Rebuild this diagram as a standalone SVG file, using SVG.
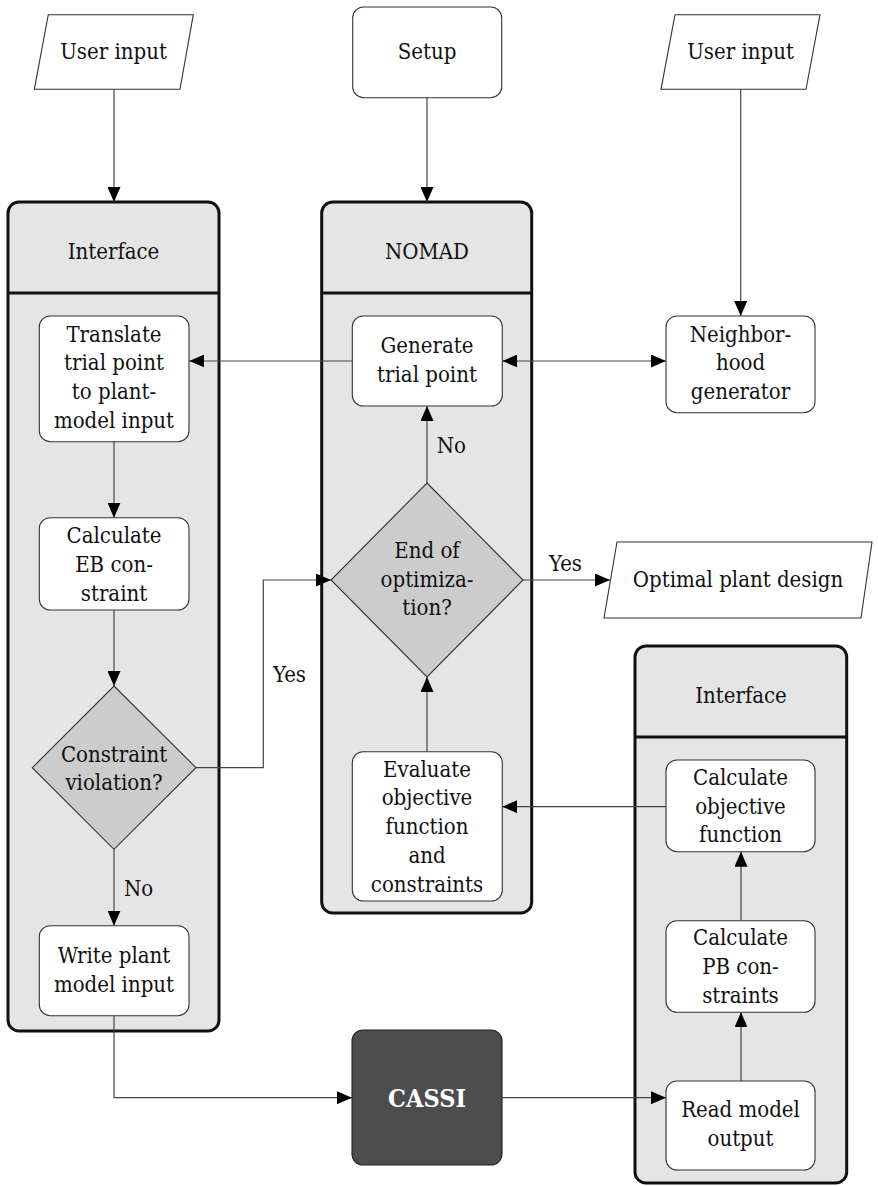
<svg xmlns="http://www.w3.org/2000/svg" width="878" height="1186" viewBox="0 0 878 1186">
  <defs>
    <marker id="arrow" markerUnits="userSpaceOnUse" markerWidth="15" markerHeight="13" refX="15" refY="6.5" orient="auto-start-reverse">
      <path d="M0,0 L15,6.5 L0,13 z" fill="#000"/>
    </marker>
    <style>
      .t { font-family: "DejaVu Serif Condensed", "DejaVu Serif", "Liberation Serif", serif; font-stretch: condensed; font-size: 22px; fill: #111; text-anchor: middle; }
      .lbl { text-anchor: start; }
      .container { fill: #e5e5e5; stroke: #111; stroke-width: 3; }
      .divider { stroke: #111; stroke-width: 3; fill: none; }
      .box { fill: #fff; stroke: #333; stroke-width: 1.1; }
      .io { fill: #fff; stroke: #333; stroke-width: 1.1; }
      .decision { fill: #cccccc; stroke: #333; stroke-width: 1.1; }
      .ext { fill: #4d4d4d; stroke: #222; stroke-width: 1.1; }
      .ext-text { fill: #fff; font-weight: bold; font-size: 25px; }
      .conn { fill: none; stroke: #444; stroke-width: 1.2; }
      .arr { marker-end: url(#arrow); }
      .dbl { marker-start: url(#arrow); marker-end: url(#arrow); }
    </style>
  </defs>

  <!-- Swimlane containers -->
  <g id="lane-interface-left">
    <rect class="container" x="8" y="202" width="211" height="829" rx="11"/>
    <line class="divider" x1="8" y1="293" x2="219" y2="293"/>
    <text class="t" x="113.5" y="259.3">Interface</text>
  </g>
  <g id="lane-nomad">
    <rect class="container" x="321.7" y="202" width="210" height="711" rx="11"/>
    <line class="divider" x1="321.7" y1="293" x2="531.7" y2="293"/>
    <text class="t" x="427" y="259.3">NOMAD</text>
  </g>
  <g id="lane-interface-right">
    <rect class="container" x="635" y="646" width="211.7" height="537" rx="11"/>
    <line class="divider" x1="635" y1="737" x2="846.7" y2="737"/>
    <text class="t" x="741" y="702.7">Interface</text>
  </g>

  <!-- Connectors -->
  <g id="connectors">
    <line class="conn arr" x1="114" y1="89.3" x2="114" y2="202"/>
    <line class="conn arr" x1="427" y1="97.7" x2="427" y2="202"/>
    <line class="conn arr" x1="740.7" y1="89.3" x2="740.7" y2="316"/>
    <line class="conn arr" x1="352.3" y1="361" x2="189.3" y2="361"/>
    <line class="conn dbl" x1="502.3" y1="361" x2="666" y2="361"/>
    <line class="conn arr" x1="114" y1="441.7" x2="114" y2="517.7"/>
    <line class="conn arr" x1="114" y1="610" x2="114" y2="686"/>
    <line class="conn arr" x1="114" y1="849.3" x2="114" y2="925.7"/>
    <polyline class="conn arr" points="196,767.7 263.3,767.7 263.3,580 331,580"/>
    <line class="conn arr" x1="427" y1="483" x2="427" y2="406"/>
    <line class="conn arr" x1="523" y1="580" x2="610" y2="580"/>
    <line class="conn arr" x1="427" y1="751.7" x2="427" y2="677"/>
    <line class="conn arr" x1="666" y1="806.7" x2="502.3" y2="806.7"/>
    <line class="conn arr" x1="741" y1="920.7" x2="741" y2="851.7"/>
    <line class="conn arr" x1="741" y1="1081" x2="741" y2="1012.3"/>
    <polyline class="conn arr" points="114,1015.7 114,1097.7 352,1097.7"/>
    <line class="conn arr" x1="502" y1="1097.7" x2="666" y2="1097.7"/>
    <text class="t lbl" x="124" y="896">No</text>
    <text class="t lbl" x="273" y="681.7">Yes</text>
    <text class="t lbl" x="436.7" y="452.7">No</text>
    <text class="t lbl" x="549" y="571">Yes</text>
  </g>

  <!-- Inputs and setup -->
  <g id="user-input-left">
    <polygon class="io" points="48.3,14.7 193.3,14.7 180,89.3 34.3,89.3"/>
    <text class="t" x="113.5" y="59.3">User input</text>
  </g>
  <g id="setup">
    <rect class="box" x="352.7" y="7" width="149" height="90.7" rx="11"/>
    <text class="t" x="427" y="59.3">Setup</text>
  </g>
  <g id="user-input-right">
    <polygon class="io" points="675,14.7 820,14.7 806,89.3 661,89.3"/>
    <text class="t" x="740.5" y="59.3">User input</text>
  </g>

  <!-- Interface (left) steps -->
  <g id="translate">
    <rect class="box" x="39.3" y="316" width="149.7" height="125.7" rx="11"/>
    <text class="t" x="114" y="341.7">Translate</text>
    <text class="t" x="114" y="370.4">trial point</text>
    <text class="t" x="114" y="399.1">to plant-</text>
    <text class="t" x="114" y="427.8">model input</text>
  </g>
  <g id="calc-eb">
    <rect class="box" x="39.3" y="517.7" width="149.7" height="92.3" rx="11"/>
    <text class="t" x="114" y="543.3">Calculate</text>
    <text class="t" x="114" y="572">EB con-</text>
    <text class="t" x="114" y="600.7">straint</text>
  </g>
  <g id="constraint-violation">
    <polygon class="decision" points="114,686 196,767.7 114,849.3 32.3,767.7"/>
    <text class="t" x="114" y="761.7">Constraint</text>
    <text class="t" x="114" y="790.4">violation?</text>
  </g>
  <g id="write-input">
    <rect class="box" x="39.3" y="925.7" width="149.7" height="90" rx="11"/>
    <text class="t" x="114" y="963">Write plant</text>
    <text class="t" x="114" y="991.5">model input</text>
  </g>

  <!-- NOMAD steps -->
  <g id="generate">
    <rect class="box" x="352.3" y="316" width="150" height="90" rx="11"/>
    <text class="t" x="427" y="353.3">Generate</text>
    <text class="t" x="427" y="381.7">trial point</text>
  </g>
  <g id="end-of-optimization">
    <polygon class="decision" points="427,483 523,580 427,677 331,580"/>
    <text class="t" x="427" y="557.8">End of</text>
    <text class="t" x="427" y="586.5">optimiza-</text>
    <text class="t" x="427" y="615.2">tion?</text>
  </g>
  <g id="evaluate">
    <rect class="box" x="352.3" y="751.7" width="150" height="149.3" rx="11"/>
    <text class="t" x="427" y="776.7">Evaluate</text>
    <text class="t" x="427" y="805.4">objective</text>
    <text class="t" x="427" y="834.1">function</text>
    <text class="t" x="427" y="862.8">and</text>
    <text class="t" x="427" y="891.5">constraints</text>
  </g>

  <!-- Neighborhood generator and result -->
  <g id="neighborhood">
    <rect class="box" x="666" y="316" width="149" height="96.7" rx="11"/>
    <text class="t" x="740.5" y="341.7">Neighbor-</text>
    <text class="t" x="740.5" y="370.4">hood</text>
    <text class="t" x="740.5" y="399.1">generator</text>
  </g>
  <g id="optimal-design">
    <polygon class="io" points="617,542 872,542 861,618 604,618"/>
    <text class="t" x="738" y="587">Optimal plant design</text>
  </g>

  <!-- Interface (right) steps -->
  <g id="calc-objective">
    <rect class="box" x="666" y="760" width="149" height="91.7" rx="11"/>
    <text class="t" x="740.5" y="785">Calculate</text>
    <text class="t" x="740.5" y="813.7">objective</text>
    <text class="t" x="740.5" y="842.4">function</text>
  </g>
  <g id="calc-pb">
    <rect class="box" x="666" y="920.7" width="149" height="91.6" rx="11"/>
    <text class="t" x="740.5" y="945">Calculate</text>
    <text class="t" x="740.5" y="974">PB con-</text>
    <text class="t" x="740.5" y="1003">straints</text>
  </g>
  <g id="read-output">
    <rect class="box" x="666" y="1081" width="149" height="89" rx="11"/>
    <text class="t" x="740.5" y="1117">Read model</text>
    <text class="t" x="740.5" y="1146">output</text>
  </g>

  <!-- External simulator -->
  <g id="cassi">
    <rect class="ext" x="352" y="1030" width="150" height="135" rx="11"/>
    <text class="t ext-text" x="427" y="1106.5">CASSI</text>
  </g>
</svg>
